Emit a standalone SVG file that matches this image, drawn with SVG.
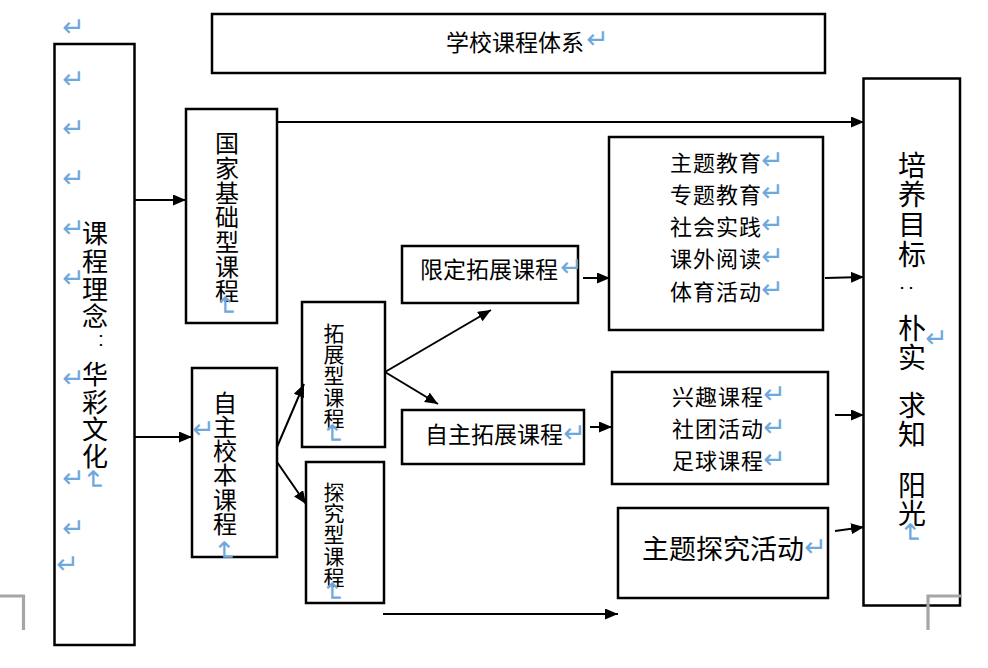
<svg xmlns="http://www.w3.org/2000/svg" width="988" height="668" viewBox="0 0 988 668">
<style>
.box{fill:#fff;stroke:#000;stroke-width:2.5}
.t{font-family:"Noto Sans CJK SC","Noto Sans CJK TC",sans-serif;fill:#000}
.vt{font-family:"Noto Sans CJK SC","Noto Sans CJK TC",sans-serif;fill:#000;writing-mode:vertical-rl;text-orientation:upright}
.pm{font-family:"DejaVu Sans",sans-serif;fill:#6FA8DC;font-size:27px}
.ln{stroke:#000;stroke-width:2;fill:none;marker-end:url(#ah)}
.crop{stroke:#a6a6a6;stroke-width:3.2;fill:none}
</style>
<defs>
<marker id="ah" markerUnits="userSpaceOnUse" markerWidth="13" markerHeight="11" refX="13" refY="5.5" orient="auto">
<path d="M0,0 L13,5.5 L0,11 z" fill="#000"/>
</marker>
</defs>
<rect width="988" height="668" fill="#fff"/>

<g id="title">
<rect class="box" x="212" y="14" width="613" height="59"/>
<text class="t" x="446" y="50.7" font-size="23">学校课程体系</text>
<text class="pm" x="586" y="48">↵</text>
</g>

<g id="philosophy">
<rect class="box" x="54.5" y="44" width="80" height="601"/>
<text class="vt" x="95" y="220.5" font-size="26" letter-spacing="1.7">课程理念</text>
<text class="vt" x="95" y="361.5" font-size="26" letter-spacing="1.3">华彩文化</text>
<text x="101" y="346" font-family="Liberation Sans,sans-serif" font-size="21" text-anchor="middle">:</text>
<g class="pm" font-size="30">
<text x="62" y="36">↵</text>
<text x="62" y="88">↵</text>
<text x="62" y="137">↵</text>
<text x="62" y="187">↵</text>
<text x="62" y="237">↵</text>
<text x="62" y="287">↵</text>
<text x="62" y="387">↵</text>
<text x="62" y="487">↵</text>
<text x="62" y="537">↵</text>
<text x="56" y="573">↵</text>
</g>
<text class="pm" transform="translate(91,480) rotate(90)" text-anchor="middle" y="6">↵</text>
</g>

<g id="national">
<rect class="box" x="186" y="109" width="91" height="214"/>
<text class="vt" x="227" y="131" font-size="24" letter-spacing="0.7">国家基础型课程</text>
<text class="pm" transform="translate(223,306) rotate(90)" text-anchor="middle" y="6">↵</text>
</g>

<g id="school">
<rect class="box" x="192" y="368" width="85" height="189"/>
<text class="vt" x="225" y="391" font-size="24" letter-spacing="0.1">自主校本课程</text>
<text class="pm" x="192" y="438">↵</text>
<text class="pm" transform="translate(222,551) rotate(90)" text-anchor="middle" y="6">↵</text>
</g>

<g id="extension">
<rect class="box" x="302" y="302" width="83" height="145"/>
<text class="vt" x="334" y="322.5" font-size="21" letter-spacing="0.25">拓展型课程</text>
<text class="pm" transform="translate(330,434) rotate(90)" text-anchor="middle" y="6">↵</text>
</g>

<g id="inquiry">
<rect class="box" x="306" y="462" width="78" height="141"/>
<text class="vt" x="334" y="481.5" font-size="21" letter-spacing="0.25">探究型课程</text>
<text class="pm" transform="translate(330,592) rotate(90)" text-anchor="middle" y="6">↵</text>
</g>

<g id="limited">
<rect class="box" x="402" y="246" width="176" height="57"/>
<text class="t" x="420" y="278" font-size="23">限定拓展课程</text>
<text class="pm" x="560" y="276">↵</text>
</g>

<g id="selfext">
<rect class="box" x="402" y="410" width="182" height="54"/>
<text class="t" x="425" y="443" font-size="23">自主拓展课程</text>
<text class="pm" x="563" y="442">↵</text>
</g>

<g id="list1">
<rect class="box" x="609" y="137" width="214" height="193"/>
<g class="t" font-size="22" letter-spacing="1">
<text x="670" y="171">主题教育</text>
<text x="670" y="203">专题教育</text>
<text x="670" y="235">社会实践</text>
<text x="670" y="267">课外阅读</text>
<text x="670" y="300">体育活动</text>
</g>
<g class="pm">
<text x="761" y="169">↵</text>
<text x="761" y="201">↵</text>
<text x="761" y="233">↵</text>
<text x="761" y="265">↵</text>
<text x="761" y="298">↵</text>
</g>
</g>

<g id="list2">
<rect class="box" x="612" y="372" width="216" height="112"/>
<g class="t" font-size="22" letter-spacing="1">
<text x="672" y="405">兴趣课程</text>
<text x="672" y="437">社团活动</text>
<text x="672" y="469">足球课程</text>
</g>
<g class="pm">
<text x="763" y="403">↵</text>
<text x="763" y="436">↵</text>
<text x="763" y="468">↵</text>
</g>
</g>

<g id="theme">
<rect class="box" x="618" y="508" width="210" height="90"/>
<text class="t" x="642" y="559" font-size="27">主题探究活动</text>
<text class="pm" x="804" y="556">↵</text>
</g>

<g id="goal">
<rect class="box" x="863.5" y="78.5" width="96.5" height="527"/>
<text class="vt" x="912" y="151" font-size="28" letter-spacing="1.7">培养目标</text>
<text class="vt" x="912" y="314" font-size="28" letter-spacing="1">朴实</text>
<text class="vt" x="912" y="391" font-size="28" letter-spacing="1">求知</text>
<text class="vt" x="912" y="471" font-size="28" letter-spacing="0">阳光</text>
<text transform="translate(906,288) rotate(90)" y="5.2" font-family="Liberation Sans,sans-serif" font-size="20" text-anchor="middle">:</text>
<text class="pm" x="925" y="347">↵</text>
<text class="pm" transform="translate(908,533) rotate(90)" text-anchor="middle" y="6">↵</text>
</g>

<g id="connectors">
<line class="ln" x1="134" y1="200" x2="186" y2="200"/>
<line class="ln" x1="134" y1="437" x2="192" y2="437"/>
<line class="ln" x1="277" y1="122" x2="864" y2="122"/>
<line class="ln" x1="277" y1="447" x2="304" y2="384"/>
<line class="ln" x1="277" y1="462" x2="306" y2="504"/>
<line class="ln" x1="385" y1="372" x2="491" y2="310"/>
<line class="ln" x1="385" y1="372" x2="438" y2="404"/>
<line class="ln" x1="583" y1="278" x2="610" y2="278"/>
<line class="ln" x1="590" y1="427" x2="612" y2="427"/>
<line class="ln" x1="825" y1="278" x2="864" y2="277"/>
<line class="ln" x1="835" y1="415" x2="864" y2="415"/>
<line class="ln" x1="835" y1="531" x2="864" y2="527"/>
<line class="ln" x1="383" y1="614" x2="618" y2="614"/>
</g>

<polyline class="crop" points="0,596 23.5,596 23.5,630"/>
<polyline class="crop" points="928,630 928,596 962,596"/>
</svg>
